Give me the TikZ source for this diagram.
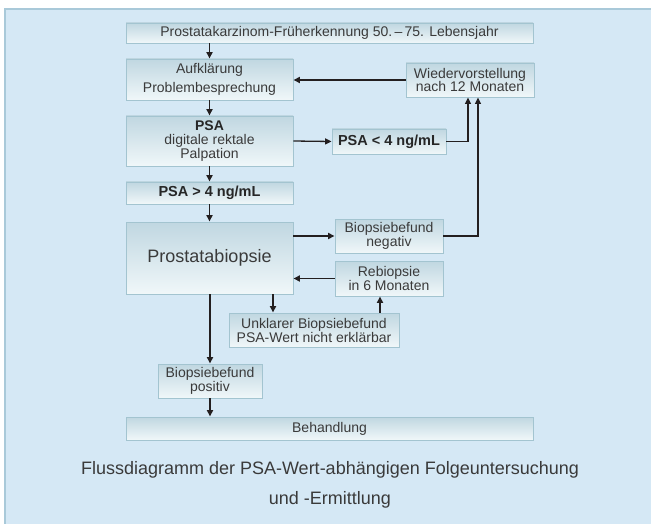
\documentclass[tikz,border=0pt]{standalone}
\usepackage{fontspec}
\setmainfont{Liberation Sans}
\usetikzlibrary{arrows.meta,calc}
\definecolor{panelfill}{HTML}{D5E8F5}
\definecolor{panelline}{HTML}{A9C9D9}
\definecolor{boxline}{HTML}{A3C4D0}
\definecolor{boxtop}{HTML}{C0D7E1}
\definecolor{boxbot}{HTML}{F0F7F9}
\definecolor{txt}{HTML}{3A3A3A}
\definecolor{arrowc}{HTML}{231F20}
\begin{document}
\begin{tikzpicture}[x=1pt,y=-1pt,
  fbox/.style={draw=boxline,line width=0.9pt,top color=boxtop,bottom color=boxbot,
    inner sep=0pt,align=center,text=txt,font=\fontsize{14}{14.5}\selectfont,anchor=center},
  bfont/.style={font=\fontsize{14.5}{15}\selectfont\bfseries,text=black!85},
  arr/.style={draw=arrowc,line width=1.7pt,-{Triangle[length=6.5pt,width=6pt]}},
  thinarr/.style={draw=arrowc,line width=1.3pt,-{Triangle[length=6.5pt,width=6pt]}}]
\useasboundingbox (0,0) rectangle (651,524);
\fill[white] (0,0) rectangle (651,524);
\draw[panelline,line width=2pt,fill=panelfill] (5,9) rectangle (665,540);
% boxes
\node[fbox,minimum width=407pt,minimum height=20pt] (top) at (329.5,33)
  {Prostatakarzinom-Früherkennung 50.\,–\,75. Lebensjahr};
\node[fbox,minimum width=167pt,minimum height=41pt,font=\fontsize{14}{19}\selectfont] (aufk) at (209.5,79.5)
  {Aufklärung\\Problembesprechung};
\node[fbox,minimum width=128pt,minimum height=34pt,font=\fontsize{14}{13.5}\selectfont] (wieder) at (470,80)
  {Wiedervorstellung\\nach 12 Monaten};
\node[fbox,minimum width=167pt,minimum height=50pt,font=\fontsize{14}{14}\selectfont] (psa) at (209.5,141)
  {{\bfseries\color{black!85}PSA}\\digitale rektale\\Palpation};
\node[fbox,bfont,minimum width=114pt,minimum height=25pt] (psalt) at (389,141.5)
  {PSA {<} 4 ng/mL};
\node[fbox,bfont,minimum width=167pt,minimum height=22pt] (psagt) at (209.5,193)
  {PSA {>} 4 ng/mL};
\node[fbox,minimum width=167pt,minimum height=72pt,font=\fontsize{18}{20}\selectfont] (prost) at (209.5,258)
  {Prostatabiopsie};
\node[fbox,minimum width=108pt,minimum height=34pt,font=\fontsize{14}{14}\selectfont] (neg) at (389,236)
  {Biopsiebefund\\negativ};
\node[fbox,minimum width=108pt,minimum height=35pt,font=\fontsize{14}{14}\selectfont] (rebi) at (389,278.5)
  {Rebiopsie\\in 6 Monaten};
\node[fbox,minimum width=170pt,minimum height=34pt,font=\fontsize{14}{14}\selectfont] (unkl) at (314,330)
  {Unklarer Biopsiebefund\\PSA-Wert nicht erklärbar};
\node[fbox,minimum width=104pt,minimum height=34pt,font=\fontsize{14}{14}\selectfont] (pos) at (210,381)
  {Biopsiebefund\\positiv};
\node[fbox,minimum width=407pt,minimum height=23pt] (beh) at (329.5,428.5)
  {Behandlung};
% caption
\node[align=center,text=txt,font=\fontsize{18}{30}\selectfont,anchor=center] (cap) at (330,485)
  {Flussdiagramm der PSA-Wert-abhängigen Folgeuntersuchung\\und -Ermittlung};
% connectors
\draw[arr] (aufk.north |- top.south) -- (aufk.north);
\draw[arr] (aufk.south) -- (psa.north);
\draw[arr] (psa.south) -- (psagt.north);
\draw[arr] (psagt.south) -- (prost.north);
\draw[thinarr] (psa.east) -- (psalt.west);
\draw[thinarr] (psalt.east) -| ([xshift=-2pt]wieder.south);
\draw[thinarr] (neg.east) -| ([xshift=8pt]wieder.south);
\draw[arr] (wieder.west) -- (aufk.east |- wieder.west);
\draw[arr] (prost.east |- neg.west) -- (neg.west);
\draw[arr] (rebi.west) -- (prost.east |- rebi.west);
\draw[arr] ([xshift=63.5pt]prost.south) -- ([xshift=63.5pt]prost.south |- unkl.north);
\draw[arr] ([xshift=66pt]unkl.north) -- ([xshift=66pt]unkl.north |- rebi.south);
\draw[arr] (prost.south -| pos.north) -- (pos.north);
\draw[arr] (pos.south) -- (pos.south |- beh.north);
\end{tikzpicture}
\end{document}
